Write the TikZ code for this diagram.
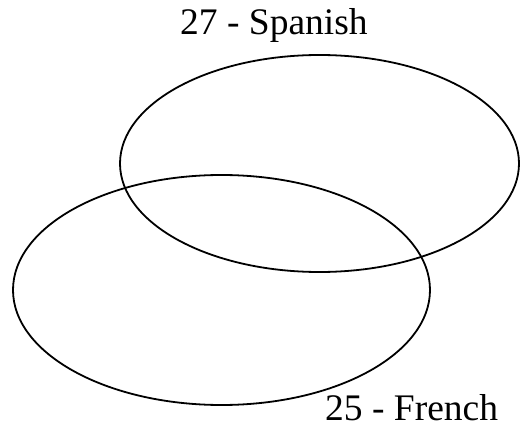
\documentclass[tikz,border=0pt]{standalone}
\usepackage{fontspec}
\setmainfont{Liberation Serif}
\begin{document}
\begin{tikzpicture}[x=1pt,y=-1pt,
  venn/.style={draw=black,line width=1.8pt},
  lbl/.style={inner sep=0pt,anchor=base west,font=\fontsize{37.5}{40}\selectfont}]
\useasboundingbox (0,0) rectangle (523,428);
\draw[venn] (319.5,163.5) ellipse [x radius=199.5, y radius=108.5];
\draw[venn] (221.5,290) ellipse [x radius=208.5, y radius=115];
\node[lbl] (sp) at (180,35) {27 - Spanish};
\node[lbl,text depth=0pt] (fr) at (325,420) {25 - French};
\end{tikzpicture}
\end{document}
